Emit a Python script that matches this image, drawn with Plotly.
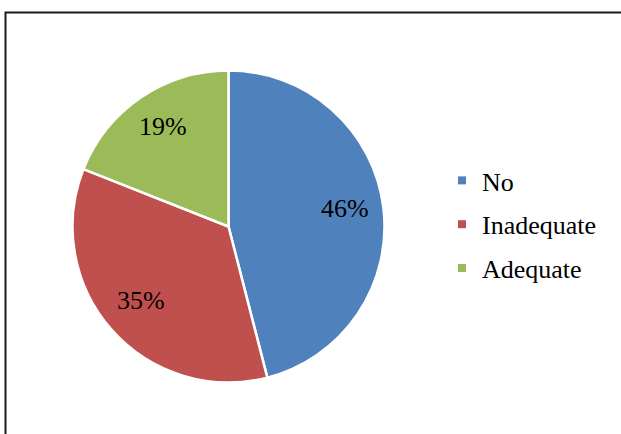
import math
import plotly.graph_objects as go

# Survey responses shown as shares of the whole
categories = ["No", "Inadequate", "Adequate"]
shares = [46, 35, 19]
colors = ["#4F81BD", "#C0504D", "#9BBB59"]

W, H = 621, 434
FONT = "Liberation Serif, Times New Roman, serif"

# pie geometry in pixels
cx, cy, r = 228.5, 226.5, 156.0
label_frac = 0.75

fig = go.Figure()
fig.add_trace(go.Pie(
    labels=categories,
    values=shares,
    sort=False,
    direction="clockwise",
    rotation=0,
    marker=dict(colors=colors, line=dict(color="white", width=2.5)),
    textinfo="none",
    hoverinfo="label+percent",
    showlegend=False,
    domain=dict(x=[(cx - r) / W, (cx + r) / W],
                y=[(H - cy - r) / H, (H - cy + r) / H]),
))

# percentage labels placed along each slice's middle angle
total = sum(shares)
annotations = []
cum = 0.0
for name, v in zip(categories, shares):
    mid = (cum + v / 2) / total * 2 * math.pi
    cum += v
    px = cx + label_frac * r * math.sin(mid)
    py = cy - label_frac * r * math.cos(mid) - 3
    annotations.append(dict(
        x=px / W, y=1 - py / H, xref="paper", yref="paper",
        text=f"{round(v / total * 100)}%", showarrow=False,
        font=dict(family=FONT, size=26, color="black"),
        xanchor="center", yanchor="middle",
    ))

# legend entries with small square keys
for i, (name, c) in enumerate(zip(categories, colors)):
    fig.add_trace(go.Scatter(
        x=[None], y=[None], mode="markers", name=name,
        marker=dict(symbol="square", size=8, color=c),
        legendgroup=f"g{i}", showlegend=True, hoverinfo="skip",
    ))

fig.update_layout(
    width=W, height=H,
    margin=dict(l=0, r=0, t=0, b=0),
    paper_bgcolor="white", plot_bgcolor="white",
    xaxis=dict(visible=False), yaxis=dict(visible=False),
    annotations=annotations,
    legend=dict(
        x=442 / W, y=1 - 157 / H, xanchor="left", yanchor="top",
        font=dict(family=FONT, size=26, color="black"),
        tracegroupgap=7, bgcolor="rgba(0,0,0,0)",
    ),
    shapes=[dict(
        type="rect", xref="paper", yref="paper",
        x0=5.5 / W, x1=1.05, y0=-0.05, y1=1 - 12.5 / H,
        line=dict(color="#1a1a1a", width=2), fillcolor="rgba(0,0,0,0)",
    )],
)

fig.write_html("out.html")
